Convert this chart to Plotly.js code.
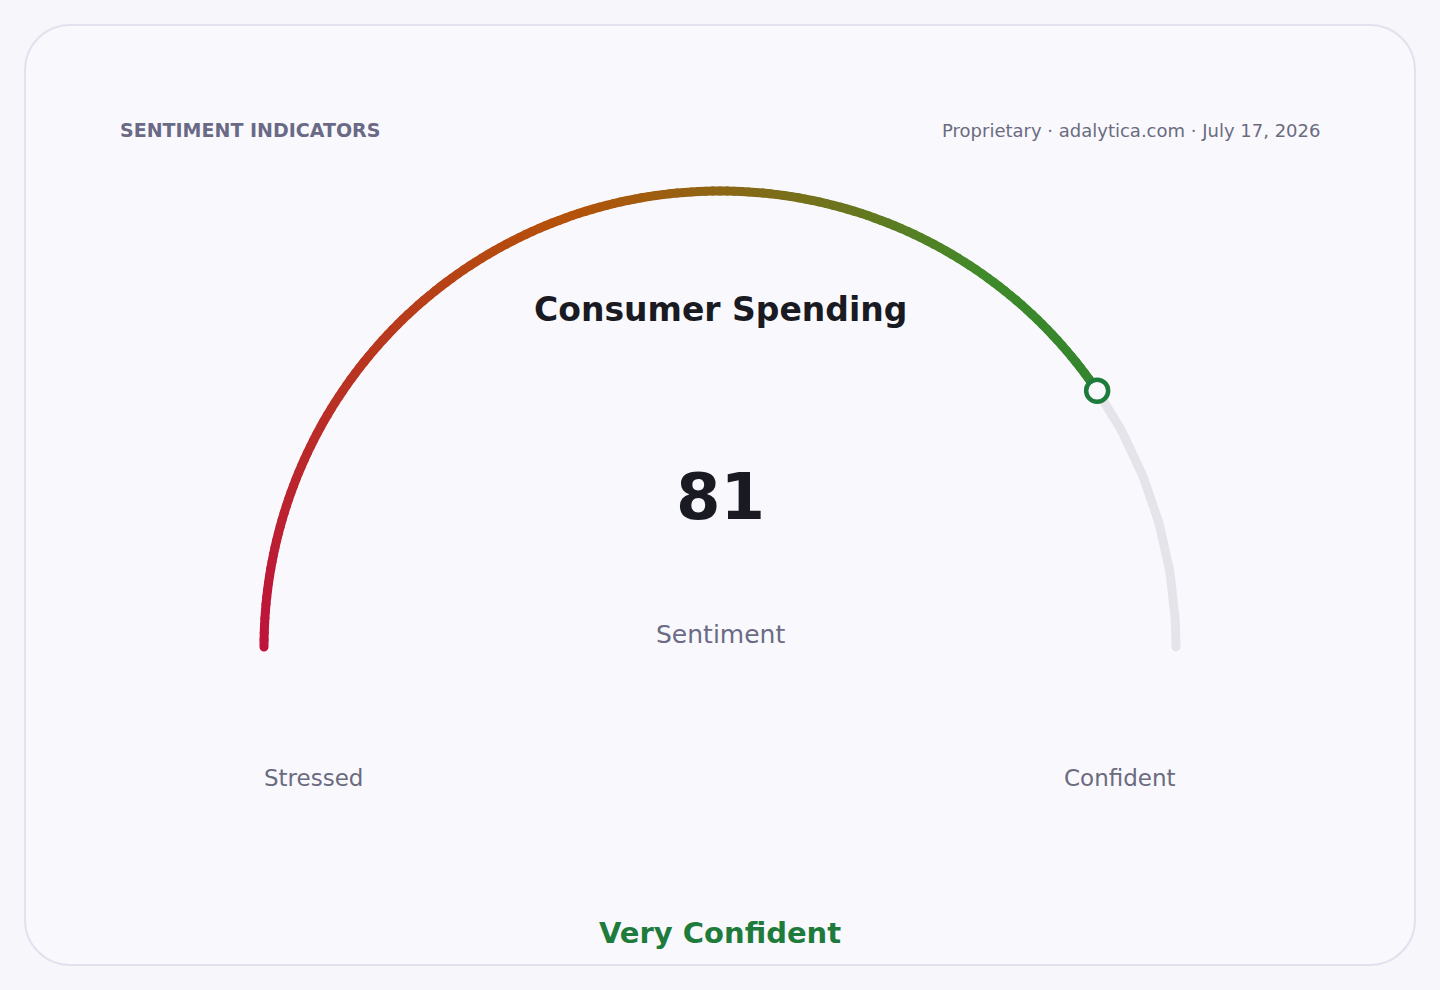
<!DOCTYPE html>
<html>
<head>
<meta charset="utf-8">
<script src="https://cdn.plot.ly/plotly-3.0.1.min.js"></script>
<style>
  html, body { margin: 0; padding: 0; background: #f7f7fb; }
  #card {
    position: absolute; left: 24px; top: 24px;
    width: 1392px; height: 942px; box-sizing: border-box;
    border: 2px solid #e2e2ee; border-radius: 46px; background: #f9f9fd;
  }
  #gauge { position: absolute; left: 0; top: 0; width: 1440px; height: 990px; }
  #gauge .js-line { stroke-linecap: round; }
</style>
</head>
<body>
<div id="card"></div>
<div id="gauge"></div>
<script>
// gauge data
const scaleRange = [0, 100];
const readingValue = [81];
const readingName = ['Consumer Spending'];
const readingUnit = ['Sentiment'];
const endLabels = ['Stressed', 'Confident'];
const readingBand = ['Very Confident'];
const headerLeft = ['SENTIMENT INDICATORS'];
const headerRight = ['Proprietary · adalytica.com · July 17, 2026'];

// colour ramp along the scale (fraction of scale -> colour)
const rampAt = [0, 0.4, 0.7, 1];
const rampColor = [[190, 18, 60], [180, 83, 9], [63, 138, 42], [30, 123, 52]];
const trackColor = '#e4e4ea';
const bandColor = '#1e7b3c';

function rampFor(f) {
    let i = 0;
    while (i < rampAt.length - 2 && f > rampAt[i + 1]) i++;
    const t = (f - rampAt[i]) / (rampAt[i + 1] - rampAt[i]);
    const a = rampColor[i], b = rampColor[i + 1];
    const c = a.map((v, k) => Math.round(v + (b[k] - v) * t));
    return 'rgb(' + c.join(',') + ')';
}

// value on the scale -> point on a unit half circle
function polar(v) {
    const f = (v - scaleRange[0]) / (scaleRange[1] - scaleRange[0]);
    const ang = Math.PI * (1 - f);
    return [Math.cos(ang), Math.sin(ang)];
}

const value = readingValue[0];
const traces = [];

// grey track from the reading to the end of the scale
const tx = [], ty = [];
for (let v = value; v <= scaleRange[1]; v += 0.5) {
    const p = polar(Math.min(v, scaleRange[1]));
    tx.push(p[0]); ty.push(p[1]);
}
traces.push({
    x: tx, y: ty, type: 'scatter', mode: 'lines',
    line: { color: trackColor, width: 9 }, hoverinfo: 'skip'
});

// coloured arc, one short piece per step so the colour can change
const step = 0.5;
for (let v = scaleRange[0]; v < value; v += step) {
    const v2 = Math.min(v + step, value);
    const p1 = polar(v), p2 = polar(v2);
    const f = ((v + v2) / 2 - scaleRange[0]) / (scaleRange[1] - scaleRange[0]);
    traces.push({
        x: [p1[0], p2[0]], y: [p1[1], p2[1]], type: 'scatter', mode: 'lines',
        line: { color: rampFor(f), width: 9 }, hoverinfo: 'skip'
    });
}

// marker at the reading
const pm = polar(value);
traces.push({
    x: [pm[0]], y: [pm[1]], type: 'scatter', mode: 'markers',
    marker: { size: 22, color: '#f9f9fd', line: { color: bandColor, width: 4.5 } },
    hoverinfo: 'skip'
});

const W = 1440, H = 990;
const R = 456, CX = 720, CY = 647;   // radius and centre in pixels
const px = x => x / W;
const py = y => 1 - y / H;
const font = 'DejaVu Sans, Verdana, sans-serif';

const annotations = [
    { text: '<b>' + headerLeft[0] + '</b>', x: px(118), y: py(130), xanchor: 'left',
      font: { size: 19, color: '#6a6a86' } },
    { text: headerRight[0], x: px(1322), y: py(131), xanchor: 'right',
      font: { size: 18, color: '#6b6b80' } },
    { text: '<b>' + readingName[0] + '</b>', x: px(720), y: py(309), xanchor: 'center',
      font: { size: 33, color: '#1a1a22' } },
    { text: '<b>' + value + '</b>', x: px(720), y: py(497), xanchor: 'center',
      font: { size: 64, color: '#1a1a22' } },
    { text: readingUnit[0], x: px(720), y: py(634), xanchor: 'center',
      font: { size: 25, color: '#6b6b85' } },
    { text: endLabels[0], x: px(262), y: py(778), xanchor: 'left',
      font: { size: 23, color: '#6b6b80' } },
    { text: endLabels[1], x: px(1178), y: py(778), xanchor: 'right',
      font: { size: 23, color: '#6b6b80' } },
    { text: '<b>' + readingBand[0] + '</b>', x: px(720), y: py(933), xanchor: 'center',
      font: { size: 29, color: bandColor } }
].map(a => Object.assign({ xref: 'paper', yref: 'paper', yanchor: 'middle', showarrow: false }, a));

const layout = {
    width: W, height: H,
    margin: { l: 0, r: 0, t: 0, b: 0 },
    showlegend: false,
    paper_bgcolor: 'rgba(0,0,0,0)',
    plot_bgcolor: 'rgba(0,0,0,0)',
    font: { family: font },
    xaxis: { range: [-CX / R, (W - CX) / R], visible: false, fixedrange: true },
    yaxis: { range: [-(H - CY) / R, CY / R], visible: false, fixedrange: true },
    annotations: annotations
};

Plotly.newPlot('gauge', traces, layout, { staticPlot: true, displayModeBar: false });
</script>
</body>
</html>
